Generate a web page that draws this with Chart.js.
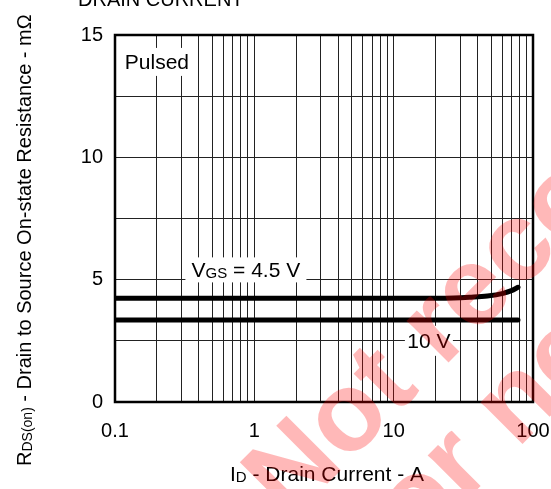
<!DOCTYPE html>
<html>
<head>
<meta charset="utf-8">
<script src="https://cdn.jsdelivr.net/npm/chart.js@4/dist/chart.umd.min.js"></script>
<style>
  body { margin: 0; background: #fff; }
  #wrap { width: 551px; height: 489px; position: relative; }
</style>
</head>
<body>
<div id="wrap"><canvas id="grafico" width="551" height="489"></canvas></div>
<script>
// valores
const corrente45 = [0.1, 1, 10, 20, 27, 35, 47, 61, 70, 78];
const rds45 = [4.24, 4.24, 4.24, 4.24, 4.25, 4.28, 4.33, 4.44, 4.55, 4.69];
const corrente10 = [0.1, 1, 10, 40, 78];
const rds10 = [3.35, 3.35, 3.35, 3.35, 3.35];
const xTicks = [0.1, 1, 10, 100];
const yTicks = [0, 5, 10, 15];

const FONTE = '"Liberation Sans", Arial, sans-serif';

function pontos(xs, ys) {
    return xs.map((x, i) => ({ x: x, y: ys[i] }));
}

// desenha texto com subscritos, retorna largura
function larguraRica(ctx, partes, tam) {
    let w = 0;
    partes.forEach(p => {
        ctx.font = (p.sub ? Math.round(tam * 0.7) : tam) + 'px ' + FONTE;
        w += ctx.measureText(p.t).width;
    });
    return w;
}
function textoRico(ctx, partes, x, y, tam) {
    ctx.textAlign = 'left';
    ctx.textBaseline = 'alphabetic';
    partes.forEach(p => {
        ctx.font = (p.sub ? Math.round(tam * 0.7) : tam) + 'px ' + FONTE;
        ctx.fillText(p.t, x, y + (p.sub ? 1 : 0));
        x += ctx.measureText(p.t).width;
    });
}

const rotulos = [
    { x: 0.2, y: 13.9, partes: [{ t: 'Pulsed' }], w: 75, h: 28 },
    { x: 0.87, y: 5.4, partes: [{ t: 'V' }, { t: 'GS', sub: true }, { t: ' = 4.5 V' }], w: 121, h: 25 },
    { x: 17.9, y: 2.5, partes: [{ t: '10 V' }], w: 48, h: 30 }
];

const pluginExtras = {
    id: 'extras',
    afterDatasetsDraw(chart) {
        const ctx = chart.ctx;
        const sx = chart.scales.x, sy = chart.scales.y;
        ctx.save();
        rotulos.forEach(r => {
            const cx = sx.getPixelForValue(r.x), cy = sy.getPixelForValue(r.y);
            ctx.fillStyle = '#fff';
            ctx.fillRect(cx - r.w / 2, cy - r.h / 2, r.w, r.h);
            const w = larguraRica(ctx, r.partes, 21);
            ctx.fillStyle = '#000';
            textoRico(ctx, r.partes, cx - w / 2, cy + 7.5, 21);
        });
        ctx.restore();
    },
    afterDraw(chart) {
        const ctx = chart.ctx;
        const a = chart.chartArea;
        ctx.save();
        // moldura
        ctx.strokeStyle = '#000';
        ctx.lineWidth = 2.5;
        ctx.strokeRect(a.left, a.top, a.right - a.left, a.bottom - a.top);

        ctx.fillStyle = '#000';
        // título cortado no topo
        textoRico(ctx, [{ t: 'DRAIN CURRENT' }], 78, 6, 20);
        // título do eixo x
        const px = [{ t: 'I' }, { t: 'D', sub: true }, { t: ' - Drain Current - A' }];
        const wx = larguraRica(ctx, px, 21);
        textoRico(ctx, px, 327 - wx / 2, 481, 21);
        // título do eixo y
        ctx.translate(31, 466);
        ctx.rotate(-Math.PI / 2);
        textoRico(ctx, [{ t: 'R' }, { t: 'DS(on)', sub: true }, { t: ' - Drain to Source On-state Resistance - mΩ' }], 0, 0, 20);
        ctx.restore();

        // marca d'água
        ctx.save();
        ctx.translate(289, 522);
        ctx.rotate(-Math.PI / 4);
        ctx.fillStyle = 'rgba(255, 0, 0, 0.28)';
        ctx.font = 'bold 112px ' + FONTE;
        ctx.textAlign = 'left';
        ctx.textBaseline = 'alphabetic';
        ctx.fillText('Not recommended', 0, 0);
        ctx.fillText('for new design', 32, 110);
        ctx.restore();
    }
};

const estiloLinha = {
    borderColor: '#000',
    borderWidth: 5,
    pointRadius: 0,
    fill: false,
    cubicInterpolationMode: 'monotone',
    borderCapStyle: 'round'
};

new Chart(document.getElementById('grafico').getContext('2d'), {
    type: 'line',
    data: {
        datasets: [
            Object.assign({ label: 'VGS = 4.5 V', data: pontos(corrente45, rds45) }, estiloLinha),
            Object.assign({ label: '10 V', data: pontos(corrente10, rds10) }, estiloLinha)
        ]
    },
    options: {
        responsive: false,
        animation: false,
        layout: { autoPadding: false, padding: { top: 35, right: 18, bottom: 0, left: 0 } },
        plugins: { legend: { display: false }, tooltip: { enabled: false } },
        scales: {
            x: {
                type: 'logarithmic',
                min: 0.1,
                max: 100,
                afterFit(scale) { scale.height = 87; scale.paddingLeft = 0; scale.paddingRight = 0; },
                afterBuildTicks(scale) {
                    const t = [];
                    for (let e = -1; e <= 1; e++) {
                        for (let m = 1; m <= 9; m++) t.push({ value: +(m * Math.pow(10, e)).toPrecision(3) });
                    }
                    t.push({ value: 100 });
                    scale.ticks = t;
                },
                border: { display: false },
                grid: { color: '#222', lineWidth: 1, drawTicks: false },
                ticks: {
                    autoSkip: false,
                    maxRotation: 0,
                    padding: 17,
                    color: '#000',
                    font: { family: FONTE, size: 20 },
                    callback(v) {
                        return xTicks.some(t => Math.abs(t - v) < 1e-9) ? String(v) : '';
                    }
                }
            },
            y: {
                min: 0,
                max: 15,
                afterFit(scale) { scale.width = 115; scale.paddingTop = 0; scale.paddingBottom = 0; },
                border: { display: false },
                grid: { color: '#222', lineWidth: 1, drawTicks: false },
                ticks: {
                    stepSize: 2.5,
                    padding: 12,
                    color: '#000',
                    font: { family: FONTE, size: 20 },
                    callback(v) { return yTicks.includes(v) ? String(v) : ''; }
                }
            }
        }
    },
    plugins: [pluginExtras]
});
</script>
</body>
</html>
